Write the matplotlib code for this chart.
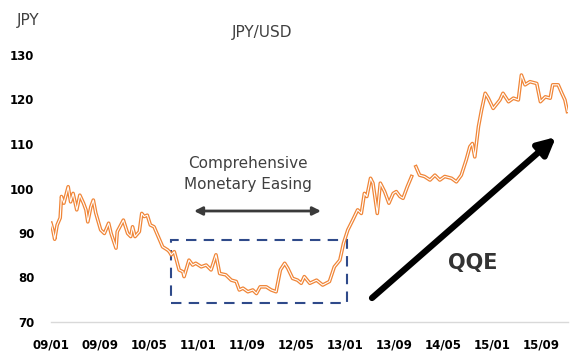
import numpy as np
import matplotlib
matplotlib.use("Agg")
import matplotlib.pyplot as plt
from matplotlib.patches import Rectangle

# months since 2009/01 and JPY per USD
months = [0, 0.3, 0.6, 1.0, 1.5, 1.7, 2.1, 2.8, 3.2, 3.6, 4.2, 4.7, 5.3, 5.7, 6.0,
          6.5, 6.9, 7.3, 8.1, 8.7, 9.4, 9.8, 10.6, 10.8, 11.8, 12.5, 13.0, 13.3,
          13.7, 14.4, 14.8, 15.2, 15.7, 16.2, 16.8, 17.6, 18.2, 19.0, 19.3, 19.6,
          20.1, 20.6, 20.9, 21.5, 21.7, 22.5, 23.1, 23.6, 24.5, 25.3, 26.1, 26.9,
          27.5, 28.5, 29.4, 30.2, 30.7, 31.3, 32.1, 32.9, 33.5, 34.1, 35.1, 35.9,
          36.7, 37.4, 38.1, 38.6, 39.4, 40.2, 40.8, 41.3, 42.2, 43.3, 44.3, 45.4,
          46.2, 47.1, 47.7, 48.4, 49.2, 50.0, 50.6, 51.1, 51.5, 52.1, 52.5, 53.2,
          53.7, 54.4, 55.1, 55.8, 56.3, 56.9, 57.4, 58.1, 58.8, 59.1, 59.5, 60.1,
          60.9, 61.8, 62.6, 63.4, 64.2, 65.3, 66.1, 66.9, 67.7, 68.3, 68.7, 69.1,
          69.7, 70.2, 70.8, 71.3, 72.1, 73.2, 73.7, 74.6, 75.4, 76.2, 76.7, 77.3,
          78.1, 79.2, 79.8, 80.6, 81.4, 81.8, 82.7, 83.3, 83.8, 84.2]
jpy = [92.2, 90.7, 88.6, 91.8, 93.4, 98.2, 96.7, 100.4, 97.0, 98.9, 95.2, 98.5,
       96.7, 95.2, 92.5, 95.9, 97.4, 94.5, 90.7, 89.9, 92.2, 89.9, 86.6, 90.3,
       92.9, 89.9, 89.2, 91.4, 89.2, 90.3, 94.4, 93.7, 94.0, 91.8, 91.4, 88.8,
       86.9, 86.2, 85.8, 85.1, 85.8, 83.2, 81.7, 81.3, 80.2, 83.9, 82.8, 83.2,
       82.4, 82.8, 81.7, 85.1, 80.9, 80.6, 79.4, 79.1, 77.2, 77.6, 76.8, 77.2,
       76.4, 77.9, 77.9, 77.2, 76.8, 81.7, 83.2, 82.1, 79.8, 79.4, 78.7, 80.2,
       78.7, 79.4, 78.3, 79.1, 82.4, 83.9, 87.7, 90.7, 92.9, 95.2, 94.4, 98.9,
       98.2, 102.3, 101.2, 94.4, 101.2, 99.3, 96.7, 98.9, 99.3, 98.2, 97.8,
       100.4, 102.7, np.nan, 104.9, 103.0, 102.7, 101.9, 103.0, 101.9, 102.7,
       102.3, 101.5, 103.0, 106.4, 109.4, 110.1, 107.1, 113.9, 117.6, 121.4,
       120.3, 118.0, 119.9, 121.4, 119.5, 120.3, 119.9, 125.5, 123.3, 124.0,
       123.6, 119.5, 120.6, 120.3, 123.3, 123.3, 121.4, 119.9, 117.3]

tick_pos = [0, 8, 16, 24, 32, 40, 48, 56, 64, 72, 80]
tick_labels = ["09/01", "09/09", "10/05", "11/01", "11/09", "12/05",
               "13/01", "13/09", "14/05", "15/01", "15/09"]
y_ticks = [70, 80, 90, 100, 110, 120, 130]

W, H = 581, 361
fig = plt.figure(figsize=(W / 100, H / 100), dpi=100)
ax = fig.add_axes([51 / W, 1 - 322 / H, (568 - 51) / W, (322 - 55) / H])

orange = "#F08537"
ax.plot(months, jpy, color=orange, lw=2.6, solid_joinstyle="round", zorder=3)
ax.plot(months, jpy, color="white", lw=0.8, solid_joinstyle="round", zorder=4)

ax.set_xlim(0, 84.3)
ax.set_ylim(70, 130)
ax.set_xticks(tick_pos)
ax.set_xticklabels(tick_labels)
ax.set_yticks(y_ticks)
ax.tick_params(length=0, labelsize=8.5, pad=12)
for lab in ax.get_xticklabels() + ax.get_yticklabels():
    lab.set_fontweight("bold")
for s in ["top", "right", "left"]:
    ax.spines[s].set_visible(False)
ax.spines["bottom"].set_color("#D9D9D9")
ax.spines["bottom"].set_linewidth(1)

# dashed box for comprehensive monetary easing
box = Rectangle((19.6, 74.3), 28.6, 14.1, fill=False, ec="#2F4A8A", lw=1.5,
                ls=(0, (5, 3.5)), zorder=2)
ax.add_patch(box)

fig.text(17 / W, 1 - 20 / H, "JPY", fontsize=11, color="#404040", va="center")
fig.text(262 / W, 1 - 32 / H, "JPY/USD", fontsize=11, color="#404040",
         va="center", ha="center")
fig.text(248 / W, 1 - 174 / H, "Comprehensive\nMonetary Easing", fontsize=11,
         color="#404040", va="center", ha="center", linespacing=1.5)
fig.text(473 / W, 1 - 263 / H, "QQE", fontsize=15, fontweight="bold",
         color="#333333", va="center", ha="center")

# arrows
ax.annotate("", xy=(194, H - 211), xytext=(321, H - 211),
            xycoords="figure pixels", textcoords="figure pixels",
            arrowprops=dict(arrowstyle="<|-|>", color="#3A3A3A", lw=2,
                            mutation_scale=12, shrinkA=0, shrinkB=0))
ax.annotate("", xy=(556, H - 137), xytext=(372, H - 298),
            xycoords="figure pixels", textcoords="figure pixels",
            arrowprops=dict(arrowstyle="-|>", color="black", lw=4.5,
                            mutation_scale=26, shrinkA=0, shrinkB=0))

fig.savefig("out.png", dpi=100)
